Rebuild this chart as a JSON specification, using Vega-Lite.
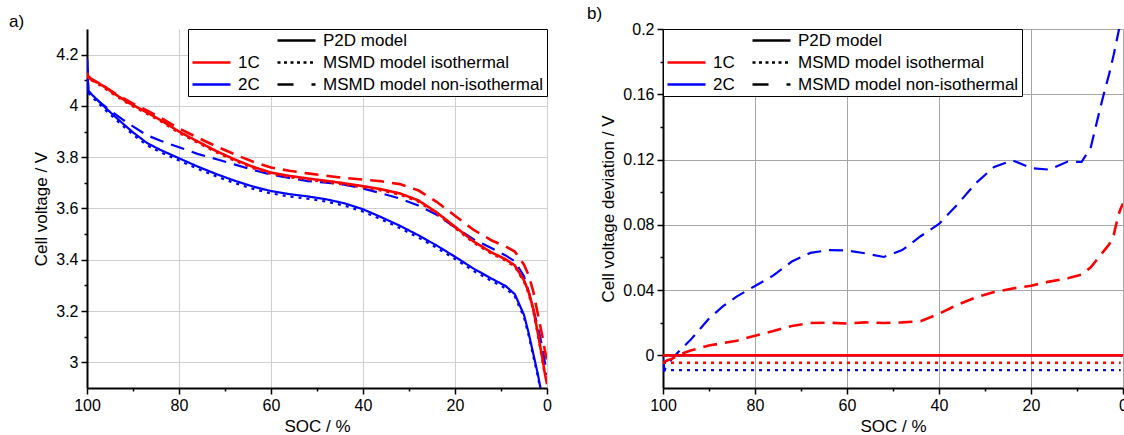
{
"$schema": "https://vega.github.io/schema/vega-lite/v6.json",
"padding": {"left": 9, "top": 5, "right": 0, "bottom": 0},
"background": "white",
"config": {
  "font": "Liberation Sans",
  "view": {"stroke": null},
  "title": {"fontSize": 17, "fontWeight": "normal", "color": "black", "anchor": "start", "frame": "group"},
  "axis": {"domainColor": "black", "domainWidth": 2, "tickColor": "black", "tickWidth": 1.5, "labelFontSize": 16, "labelColor": "black", "titleFontSize": 17, "titleFontWeight": "normal", "titleColor": "black", "gridWidth": 1, "labelPadding": 3, "titlePadding": 5, "labelFlush": false, "labelOverlap": false},
  "legend": {"title": null, "columns": 2, "symbolType": "stroke", "symbolSize": 1444, "symbolStrokeWidth": 2.5, "clipHeight": 17, "labelFontSize": 17, "labelColor": "black", "labelOffset": 6, "columnPadding": 16, "rowPadding": 4, "padding": 3, "strokeColor": "black", "fillColor": "white", "labelLimit": 400, "offset": 0},
  "concat": {"spacing": 35}
},
"datasets": {"d": [
{"s":100,"r":"2C","m":"P2D","v":4.185,"d":0},{"s":99.7,"r":"2C","m":"P2D","v":4.06,"d":0},{"s":99,"r":"2C","m":"P2D","v":4.045,"d":0},{"s":98,"r":"2C","m":"P2D","v":4.028,"d":0},{"s":96,"r":"2C","m":"P2D","v":3.993,"d":0},{"s":94,"r":"2C","m":"P2D","v":3.96,"d":0},{"s":92,"r":"2C","m":"P2D","v":3.928,"d":0},{"s":90,"r":"2C","m":"P2D","v":3.897,"d":0},{"s":87,"r":"2C","m":"P2D","v":3.856,"d":0},{"s":84,"r":"2C","m":"P2D","v":3.828,"d":0},{"s":80,"r":"2C","m":"P2D","v":3.796,"d":0},{"s":76,"r":"2C","m":"P2D","v":3.764,"d":0},{"s":72,"r":"2C","m":"P2D","v":3.735,"d":0},{"s":68,"r":"2C","m":"P2D","v":3.709,"d":0},{"s":64,"r":"2C","m":"P2D","v":3.686,"d":0},{"s":60,"r":"2C","m":"P2D","v":3.668,"d":0},{"s":56,"r":"2C","m":"P2D","v":3.656,"d":0},{"s":52,"r":"2C","m":"P2D","v":3.647,"d":0},{"s":48,"r":"2C","m":"P2D","v":3.636,"d":0},{"s":44,"r":"2C","m":"P2D","v":3.62,"d":0},{"s":40,"r":"2C","m":"P2D","v":3.597,"d":0},{"s":36,"r":"2C","m":"P2D","v":3.566,"d":0},{"s":32,"r":"2C","m":"P2D","v":3.533,"d":0},{"s":28,"r":"2C","m":"P2D","v":3.496,"d":0},{"s":24,"r":"2C","m":"P2D","v":3.456,"d":0},{"s":20,"r":"2C","m":"P2D","v":3.412,"d":0},{"s":16,"r":"2C","m":"P2D","v":3.366,"d":0},{"s":12,"r":"2C","m":"P2D","v":3.326,"d":0},{"s":9,"r":"2C","m":"P2D","v":3.298,"d":0},{"s":7,"r":"2C","m":"P2D","v":3.266,"d":0},{"s":5,"r":"2C","m":"P2D","v":3.185,"d":0},{"s":4,"r":"2C","m":"P2D","v":3.115,"d":0},{"s":3,"r":"2C","m":"P2D","v":3.035,"d":0},{"s":2,"r":"2C","m":"P2D","v":2.955,"d":0},{"s":1,"r":"2C","m":"P2D","v":2.86,"d":0},{"s":0.5,"r":"2C","m":"P2D","v":2.8,"d":0},{"s":0,"r":"2C","m":"P2D","v":2.74,"d":0},
{"s":100,"r":"2C","m":"iso","v":4.176,"d":-0.009},{"s":99.7,"r":"2C","m":"iso","v":4.051,"d":-0.009},{"s":99,"r":"2C","m":"iso","v":4.036,"d":-0.009},{"s":98,"r":"2C","m":"iso","v":4.019,"d":-0.009},{"s":96,"r":"2C","m":"iso","v":3.984,"d":-0.009},{"s":94,"r":"2C","m":"iso","v":3.951,"d":-0.009},{"s":92,"r":"2C","m":"iso","v":3.919,"d":-0.009},{"s":90,"r":"2C","m":"iso","v":3.888,"d":-0.009},{"s":87,"r":"2C","m":"iso","v":3.847,"d":-0.009},{"s":84,"r":"2C","m":"iso","v":3.819,"d":-0.009},{"s":80,"r":"2C","m":"iso","v":3.787,"d":-0.009},{"s":76,"r":"2C","m":"iso","v":3.755,"d":-0.009},{"s":72,"r":"2C","m":"iso","v":3.726,"d":-0.009},{"s":68,"r":"2C","m":"iso","v":3.7,"d":-0.009},{"s":64,"r":"2C","m":"iso","v":3.677,"d":-0.009},{"s":60,"r":"2C","m":"iso","v":3.659,"d":-0.009},{"s":56,"r":"2C","m":"iso","v":3.647,"d":-0.009},{"s":52,"r":"2C","m":"iso","v":3.638,"d":-0.009},{"s":48,"r":"2C","m":"iso","v":3.627,"d":-0.009},{"s":44,"r":"2C","m":"iso","v":3.611,"d":-0.009},{"s":40,"r":"2C","m":"iso","v":3.588,"d":-0.009},{"s":36,"r":"2C","m":"iso","v":3.557,"d":-0.009},{"s":32,"r":"2C","m":"iso","v":3.524,"d":-0.009},{"s":28,"r":"2C","m":"iso","v":3.487,"d":-0.009},{"s":24,"r":"2C","m":"iso","v":3.447,"d":-0.009},{"s":20,"r":"2C","m":"iso","v":3.403,"d":-0.009},{"s":16,"r":"2C","m":"iso","v":3.357,"d":-0.009},{"s":12,"r":"2C","m":"iso","v":3.317,"d":-0.009},{"s":9,"r":"2C","m":"iso","v":3.289,"d":-0.009},{"s":7,"r":"2C","m":"iso","v":3.257,"d":-0.009},{"s":5,"r":"2C","m":"iso","v":3.176,"d":-0.009},{"s":4,"r":"2C","m":"iso","v":3.106,"d":-0.009},{"s":3,"r":"2C","m":"iso","v":3.026,"d":-0.009},{"s":2,"r":"2C","m":"iso","v":2.946,"d":-0.009},{"s":1,"r":"2C","m":"iso","v":2.851,"d":-0.009},{"s":0.5,"r":"2C","m":"iso","v":2.791,"d":-0.009},
{"s":100,"r":"2C","m":"non","v":4.183,"d":-0.002},{"s":99.7,"r":"2C","m":"non","v":4.051,"d":-0.009},{"s":99,"r":"2C","m":"non","v":4.039,"d":-0.006},{"s":98,"r":"2C","m":"non","v":4.026,"d":-0.002},{"s":96,"r":"2C","m":"non","v":3.997,"d":0.004},{"s":94,"r":"2C","m":"non","v":3.97,"d":0.0095},{"s":92,"r":"2C","m":"non","v":3.944,"d":0.016},{"s":90,"r":"2C","m":"non","v":3.92,"d":0.0225},{"s":87,"r":"2C","m":"non","v":3.886,"d":0.03},{"s":84,"r":"2C","m":"non","v":3.864,"d":0.036},{"s":80,"r":"2C","m":"non","v":3.839,"d":0.0425},{"s":76,"r":"2C","m":"non","v":3.813,"d":0.049},{"s":72,"r":"2C","m":"non","v":3.793,"d":0.0575},{"s":68,"r":"2C","m":"non","v":3.772,"d":0.0628},{"s":64,"r":"2C","m":"non","v":3.751,"d":0.0645},{"s":60,"r":"2C","m":"non","v":3.732,"d":0.0643},{"s":56,"r":"2C","m":"non","v":3.719,"d":0.0625},{"s":52,"r":"2C","m":"non","v":3.707,"d":0.0603},{"s":48,"r":"2C","m":"non","v":3.701,"d":0.0645},{"s":44,"r":"2C","m":"non","v":3.693,"d":0.073},{"s":40,"r":"2C","m":"non","v":3.678,"d":0.0805},{"s":36,"r":"2C","m":"non","v":3.659,"d":0.0925},{"s":32,"r":"2C","m":"non","v":3.639,"d":0.1055},{"s":28,"r":"2C","m":"non","v":3.612,"d":0.1155},{"s":24,"r":"2C","m":"non","v":3.576,"d":0.1195},{"s":20,"r":"2C","m":"non","v":3.527,"d":0.1148},{"s":16,"r":"2C","m":"non","v":3.48,"d":0.1138},{"s":12,"r":"2C","m":"non","v":3.445,"d":0.1188},{"s":9,"r":"2C","m":"non","v":3.417,"d":0.1185},{"s":7,"r":"2C","m":"non","v":3.394,"d":0.1275},{"s":5,"r":"2C","m":"non","v":3.336,"d":0.151},{"s":4,"r":"2C","m":"non","v":3.277,"d":0.162},{"s":3,"r":"2C","m":"non","v":3.208,"d":0.1725},{"s":2,"r":"2C","m":"non","v":3.14,"d":0.1845},{"s":1,"r":"2C","m":"non","v":3.058,"d":0.198},{"s":0.5,"r":"2C","m":"non","v":3.005,"d":0.205},{"s":0,"r":"2C","m":"non","v":2.952,"d":0.212},
{"s":100,"r":"1C","m":"P2D","v":4.13,"d":0},{"s":99.7,"r":"1C","m":"P2D","v":4.115,"d":0},{"s":99,"r":"1C","m":"P2D","v":4.105,"d":0},{"s":98,"r":"1C","m":"P2D","v":4.095,"d":0},{"s":96,"r":"1C","m":"P2D","v":4.072,"d":0},{"s":94,"r":"1C","m":"P2D","v":4.047,"d":0},{"s":92,"r":"1C","m":"P2D","v":4.024,"d":0},{"s":90,"r":"1C","m":"P2D","v":4.003,"d":0},{"s":87,"r":"1C","m":"P2D","v":3.975,"d":0},{"s":84,"r":"1C","m":"P2D","v":3.945,"d":0},{"s":80,"r":"1C","m":"P2D","v":3.9,"d":0},{"s":76,"r":"1C","m":"P2D","v":3.862,"d":0},{"s":72,"r":"1C","m":"P2D","v":3.825,"d":0},{"s":68,"r":"1C","m":"P2D","v":3.792,"d":0},{"s":64,"r":"1C","m":"P2D","v":3.763,"d":0},{"s":60,"r":"1C","m":"P2D","v":3.74,"d":0},{"s":56,"r":"1C","m":"P2D","v":3.727,"d":0},{"s":52,"r":"1C","m":"P2D","v":3.717,"d":0},{"s":48,"r":"1C","m":"P2D","v":3.708,"d":0},{"s":44,"r":"1C","m":"P2D","v":3.698,"d":0},{"s":40,"r":"1C","m":"P2D","v":3.687,"d":0},{"s":36,"r":"1C","m":"P2D","v":3.675,"d":0},{"s":32,"r":"1C","m":"P2D","v":3.659,"d":0},{"s":28,"r":"1C","m":"P2D","v":3.632,"d":0},{"s":24,"r":"1C","m":"P2D","v":3.585,"d":0},{"s":20,"r":"1C","m":"P2D","v":3.529,"d":0},{"s":16,"r":"1C","m":"P2D","v":3.472,"d":0},{"s":12,"r":"1C","m":"P2D","v":3.428,"d":0},{"s":9,"r":"1C","m":"P2D","v":3.402,"d":0},{"s":7,"r":"1C","m":"P2D","v":3.378,"d":0},{"s":5,"r":"1C","m":"P2D","v":3.32,"d":0},{"s":4,"r":"1C","m":"P2D","v":3.275,"d":0},{"s":3,"r":"1C","m":"P2D","v":3.21,"d":0},{"s":2,"r":"1C","m":"P2D","v":3.115,"d":0},{"s":1,"r":"1C","m":"P2D","v":3.015,"d":0},{"s":0.5,"r":"1C","m":"P2D","v":2.96,"d":0},{"s":0,"r":"1C","m":"P2D","v":2.915,"d":0},
{"s":100,"r":"1C","m":"iso","v":4.1255,"d":-0.0045},{"s":99.7,"r":"1C","m":"iso","v":4.1105,"d":-0.0045},{"s":99,"r":"1C","m":"iso","v":4.1005,"d":-0.0045},{"s":98,"r":"1C","m":"iso","v":4.0905,"d":-0.0045},{"s":96,"r":"1C","m":"iso","v":4.0675,"d":-0.0045},{"s":94,"r":"1C","m":"iso","v":4.0425,"d":-0.0045},{"s":92,"r":"1C","m":"iso","v":4.0195,"d":-0.0045},{"s":90,"r":"1C","m":"iso","v":3.9985,"d":-0.0045},{"s":87,"r":"1C","m":"iso","v":3.9705,"d":-0.0045},{"s":84,"r":"1C","m":"iso","v":3.9405,"d":-0.0045},{"s":80,"r":"1C","m":"iso","v":3.8955,"d":-0.0045},{"s":76,"r":"1C","m":"iso","v":3.8575,"d":-0.0045},{"s":72,"r":"1C","m":"iso","v":3.8205,"d":-0.0045},{"s":68,"r":"1C","m":"iso","v":3.7875,"d":-0.0045},{"s":64,"r":"1C","m":"iso","v":3.7585,"d":-0.0045},{"s":60,"r":"1C","m":"iso","v":3.7355,"d":-0.0045},{"s":56,"r":"1C","m":"iso","v":3.7225,"d":-0.0045},{"s":52,"r":"1C","m":"iso","v":3.7125,"d":-0.0045},{"s":48,"r":"1C","m":"iso","v":3.7035,"d":-0.0045},{"s":44,"r":"1C","m":"iso","v":3.6935,"d":-0.0045},{"s":40,"r":"1C","m":"iso","v":3.6825,"d":-0.0045},{"s":36,"r":"1C","m":"iso","v":3.6705,"d":-0.0045},{"s":32,"r":"1C","m":"iso","v":3.6545,"d":-0.0045},{"s":28,"r":"1C","m":"iso","v":3.6275,"d":-0.0045},{"s":24,"r":"1C","m":"iso","v":3.5805,"d":-0.0045},{"s":20,"r":"1C","m":"iso","v":3.5245,"d":-0.0045},{"s":16,"r":"1C","m":"iso","v":3.4675,"d":-0.0045},{"s":12,"r":"1C","m":"iso","v":3.4235,"d":-0.0045},{"s":9,"r":"1C","m":"iso","v":3.3975,"d":-0.0045},{"s":7,"r":"1C","m":"iso","v":3.3735,"d":-0.0045},{"s":5,"r":"1C","m":"iso","v":3.3155,"d":-0.0045},{"s":4,"r":"1C","m":"iso","v":3.2705,"d":-0.0045},{"s":3,"r":"1C","m":"iso","v":3.2055,"d":-0.0045},{"s":2,"r":"1C","m":"iso","v":3.1105,"d":-0.0045},{"s":1,"r":"1C","m":"iso","v":3.0105,"d":-0.0045},{"s":0.5,"r":"1C","m":"iso","v":2.9555,"d":-0.0045},
{"s":100,"r":"1C","m":"non","v":4.125,"d":-0.005},{"s":99.7,"r":"1C","m":"non","v":4.111,"d":-0.004},{"s":99,"r":"1C","m":"non","v":4.102,"d":-0.003},{"s":98,"r":"1C","m":"non","v":4.093,"d":-0.002},{"s":96,"r":"1C","m":"non","v":4.073,"d":0.001},{"s":94,"r":"1C","m":"non","v":4.05,"d":0.003},{"s":92,"r":"1C","m":"non","v":4.029,"d":0.0045},{"s":90,"r":"1C","m":"non","v":4.009,"d":0.006},{"s":87,"r":"1C","m":"non","v":3.983,"d":0.0075},{"s":84,"r":"1C","m":"non","v":3.954,"d":0.009},{"s":80,"r":"1C","m":"non","v":3.912,"d":0.012},{"s":76,"r":"1C","m":"non","v":3.877,"d":0.015},{"s":72,"r":"1C","m":"non","v":3.843,"d":0.018},{"s":68,"r":"1C","m":"non","v":3.812,"d":0.0198},{"s":64,"r":"1C","m":"non","v":3.783,"d":0.02},{"s":60,"r":"1C","m":"non","v":3.76,"d":0.0195},{"s":56,"r":"1C","m":"non","v":3.747,"d":0.0202},{"s":52,"r":"1C","m":"non","v":3.737,"d":0.0198},{"s":48,"r":"1C","m":"non","v":3.728,"d":0.0202},{"s":44,"r":"1C","m":"non","v":3.719,"d":0.021},{"s":40,"r":"1C","m":"non","v":3.713,"d":0.0255},{"s":36,"r":"1C","m":"non","v":3.706,"d":0.031},{"s":32,"r":"1C","m":"non","v":3.695,"d":0.0355},{"s":28,"r":"1C","m":"non","v":3.671,"d":0.0388},{"s":24,"r":"1C","m":"non","v":3.626,"d":0.041},{"s":20,"r":"1C","m":"non","v":3.572,"d":0.0427},{"s":16,"r":"1C","m":"non","v":3.517,"d":0.0452},{"s":12,"r":"1C","m":"non","v":3.475,"d":0.0472},{"s":9,"r":"1C","m":"non","v":3.452,"d":0.0495},{"s":7,"r":"1C","m":"non","v":3.432,"d":0.054},{"s":5,"r":"1C","m":"non","v":3.381,"d":0.061},{"s":4,"r":"1C","m":"non","v":3.34,"d":0.0645},{"s":3,"r":"1C","m":"non","v":3.278,"d":0.068},{"s":2,"r":"1C","m":"non","v":3.189,"d":0.074},{"s":1,"r":"1C","m":"non","v":3.101,"d":0.086},{"s":0.5,"r":"1C","m":"non","v":3.05,"d":0.09},{"s":0,"r":"1C","m":"non","v":3.008,"d":0.093}
]},
"hconcat": [
{
  "title": {"text": "a)", "dx": -78, "offset": -2},
  "width": 460, "height": 359,
  "data": {"name": "d"},
  "encoding": {
    "x": {"field": "s", "type": "quantitative", "scale": {"domain": [0, 100], "reverse": true, "nice": false},
      "axis": {"values": [100,90,80,70,60,50,40,30,20,10,0], "title": "SOC / %", "labelExpr": "datum.value % 20 == 0 ? datum.label : ''",
        "tickSize": {"condition": {"test": "datum.value % 20 != 0", "value": 3}, "value": 6},
        "gridOpacity": {"condition": {"test": "datum.value % 20 != 0", "value": 0}, "value": 1}, "gridColor": "#cfcfcf"}},
    "y": {"field": "v", "type": "quantitative", "scale": {"domain": [2.9, 4.3], "nice": false, "zero": false},
      "axis": {"values": [3,3.1,3.2,3.3,3.4,3.5,3.6,3.7,3.8,3.9,4,4.1,4.2], "title": "Cell voltage / V", "format": "~g",
        "labelExpr": "round(datum.value*10) % 2 == 0 ? datum.label : ''",
        "tickSize": {"condition": {"test": "round(datum.value*10) % 2 != 0", "value": 3}, "value": 6},
        "gridOpacity": {"condition": {"test": "round(datum.value*10) % 2 != 0", "value": 0}, "value": 1}, "gridColor": "#cfcfcf"}}
  },
  "layer": [
    {
      "transform": [{"filter": "datum.r == '2C'"}],
      "mark": {"type": "line", "clip": true, "strokeWidth": 2.2},
      "encoding": {
        "color": {"field": "r", "type": "nominal", "scale": {"domain": ["1C","2C"], "range": ["#ff0000","#0000ff"]}, "legend": null},
        "strokeDash": {"field": "m", "type": "nominal", "scale": {"domain": ["P2D","iso","non"], "range": [[1,0],[3,5],[14,8]]}, "legend": null}
      }
    },
    {
      "transform": [{"filter": "datum.r == '1C'"}],
      "mark": {"type": "line", "clip": true, "strokeWidth": 2.6},
      "encoding": {
        "color": {"field": "r", "type": "nominal", "scale": {"domain": ["1C","2C"], "range": ["#ff0000","#0000ff"]}, "legend": null},
        "strokeDash": {"field": "m", "type": "nominal", "scale": {"domain": ["P2D","iso","non"], "range": [[1,0],[3,5],[14,8]]}, "legend": null}
      }
    },
    {
      "transform": [{"filter": "false"}],
      "mark": {"type": "line", "strokeWidth": 2},
      "encoding": {
        "color": {"field": "lg", "type": "nominal", "scale": {"domain": [" ", "1C", "2C", "P2D model", "MSMD model isothermal", "MSMD model non-isothermal"], "range": ["white","#ff0000","#0000ff","black","black","black"]}, "legend": {"orient": "top-right"}},
        "strokeDash": {"field": "lg", "type": "nominal", "scale": {"domain": [" ", "1C", "2C", "P2D model", "MSMD model isothermal", "MSMD model non-isothermal"], "range": [[1,0],[1,0],[1,0],[1,0],[3,3.5],[16,18,4,100]]}, "legend": {"orient": "top-right"}}
      }
    }
  ],
  "resolve": {"scale": {"color": "independent", "strokeDash": "independent"}}
},
{
  "title": {"text": "b)", "dx": -76, "offset": -2},
  "width": 460, "height": 359,
  "data": {"name": "d"},
  "encoding": {
    "x": {"field": "s", "type": "quantitative", "scale": {"domain": [0, 100], "reverse": true, "nice": false},
      "axis": {"values": [100,90,80,70,60,50,40,30,20,10,0], "title": "SOC / %", "labelExpr": "datum.value % 20 == 0 ? datum.label : ''",
        "tickSize": {"condition": {"test": "datum.value % 20 != 0", "value": 3}, "value": 6},
        "gridOpacity": {"condition": {"test": "datum.value % 20 != 0", "value": 0}, "value": 1}, "gridColor": "#a6a6a6"}},
    "y": {"field": "d", "type": "quantitative", "scale": {"domain": [-0.02, 0.2], "nice": false, "zero": false},
      "axis": {"values": [0,0.02,0.04,0.06,0.08,0.1,0.12,0.14,0.16,0.18,0.2], "title": "Cell voltage deviation / V", "format": "~g",
        "labelExpr": "round(datum.value*100) % 4 == 0 ? datum.label : ''",
        "tickSize": {"condition": {"test": "round(datum.value*100) % 4 != 0", "value": 3}, "value": 6},
        "gridOpacity": {"condition": {"test": "round(datum.value*100) % 4 != 0", "value": 0}, "value": 1}, "gridColor": "#a6a6a6"}}
  },
  "layer": [
    {
      "transform": [{"filter": "datum.r == '2C'"}],
      "mark": {"type": "line", "clip": true, "strokeWidth": 2.2},
      "encoding": {
        "color": {"field": "r", "type": "nominal", "scale": {"domain": ["1C","2C"], "range": ["#ff0000","#0000ff"]}, "legend": null},
        "strokeDash": {"field": "m", "type": "nominal", "scale": {"domain": ["P2D","iso","non"], "range": [[1,0],[3,5],[14,8]]}, "legend": null}
      }
    },
    {
      "transform": [{"filter": "datum.r == '1C'"}],
      "mark": {"type": "line", "clip": true, "strokeWidth": 2.6},
      "encoding": {
        "color": {"field": "r", "type": "nominal", "scale": {"domain": ["1C","2C"], "range": ["#ff0000","#0000ff"]}, "legend": null},
        "strokeDash": {"field": "m", "type": "nominal", "scale": {"domain": ["P2D","iso","non"], "range": [[1,0],[3,5],[14,8]]}, "legend": null}
      }
    },
    {
      "transform": [{"filter": "false"}],
      "mark": {"type": "line", "strokeWidth": 2},
      "encoding": {
        "color": {"field": "lg", "type": "nominal", "scale": {"domain": [" ", "1C", "2C", "P2D model", "MSMD model isothermal", "MSMD model non-isothermal"], "range": ["white","#ff0000","#0000ff","black","black","black"]}, "legend": {"orient": "top-left"}},
        "strokeDash": {"field": "lg", "type": "nominal", "scale": {"domain": [" ", "1C", "2C", "P2D model", "MSMD model isothermal", "MSMD model non-isothermal"], "range": [[1,0],[1,0],[1,0],[1,0],[3,3.5],[16,18,4,100]]}, "legend": {"orient": "top-left"}}
      }
    }
  ],
  "resolve": {"scale": {"color": "independent", "strokeDash": "independent"}}
}
],
"resolve": {"scale": {"x": "independent", "y": "independent", "color": "independent", "strokeDash": "independent"}, "legend": {"color": "independent", "strokeDash": "independent"}}
}
